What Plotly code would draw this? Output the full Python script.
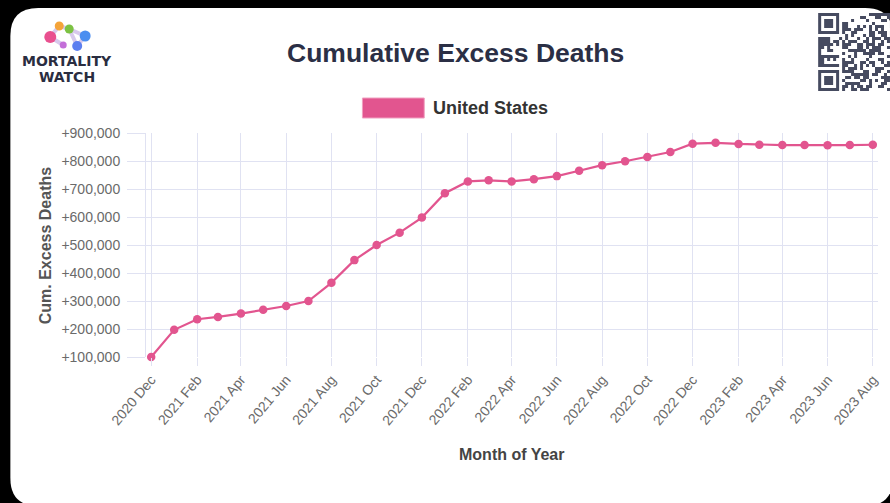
import plotly.graph_objects as go

# monthly cumulative excess deaths, United States
months = ["2020-12", "2021-01", "2021-02", "2021-03", "2021-04", "2021-05", "2021-06",
          "2021-07", "2021-08", "2021-09", "2021-10", "2021-11", "2021-12", "2022-01",
          "2022-02", "2022-03", "2022-04", "2022-05", "2022-06", "2022-07", "2022-08",
          "2022-09", "2022-10", "2022-11", "2022-12", "2023-01", "2023-02", "2023-03",
          "2023-04", "2023-05", "2023-06", "2023-07", "2023-08"]
cum_excess = [100000, 197000, 235000, 243000, 255000, 269000, 282000, 300000, 365000,
              446000, 500000, 544000, 598000, 685000, 727000, 731000, 727000, 735000,
              746000, 765000, 785000, 799000, 814000, 832000, 862000, 865000, 861000,
              858000, 857000, 857000, 856000, 857000, 858000]
series_name = "United States"

W, H = 890, 503
L, R, T, B = 146, 10, 133, 146
PW, PH = W - L - R, H - T - B

PINK = "#e2558f"
GRID = "#e0e2f2"
DARK = "#2b2f45"
FONT = "Liberation Sans, Arial, sans-serif"


def px(x):
    return (x - L) / PW


def py(y):
    return (H - B - y) / PH


def rect_path(x0, y0, x1, y1):
    return "M%f,%f L%f,%f L%f,%f L%f,%f Z" % (px(x0), py(y0), px(x1), py(y0),
                                              px(x1), py(y1), px(x0), py(y1))


fig = go.Figure()
fig.add_trace(go.Scatter(
    x=[m + "-01" for m in months], y=cum_excess, name=series_name,
    mode="lines+markers", line=dict(color=PINK, width=2.2),
    marker=dict(color=PINK, size=8.5), cliponaxis=False, showlegend=False))

shapes = []
# white card with rounded corners
cx0, cy0, cx1, cy1, r = 10, 8, 895, 506, 28
card = ("M%f,%f L%f,%f Q%f,%f %f,%f L%f,%f Q%f,%f %f,%f L%f,%f Q%f,%f %f,%f L%f,%f Q%f,%f %f,%f Z" % (
    px(cx0 + r), py(cy0), px(cx1 - r), py(cy0), px(cx1), py(cy0), px(cx1), py(cy0 + r),
    px(cx1), py(cy1 - r), px(cx1), py(cy1), px(cx1 - r), py(cy1),
    px(cx0 + r), py(cy1), px(cx0), py(cy1), px(cx0), py(cy1 - r),
    px(cx0), py(cy0 + r), px(cx0), py(cy0), px(cx0 + r), py(cy0)))
shapes.append(dict(type="path", xref="paper", yref="paper", path=card,
                   fillcolor="white", line=dict(width=0), layer="below"))

# legend box
shapes.append(dict(type="rect", xref="paper", yref="paper",
                   x0=px(363), x1=px(425), y0=py(118), y1=py(98),
                   fillcolor=PINK, line=dict(color="#f0a0c0", width=1)))

# logo: little molecule
links = [((50, 37), (59, 26)), ((50, 37), (63, 45)), ((59, 26), (69, 29)),
         ((69, 29), (77, 46)), ((69, 29), (85, 36)), ((85, 36), (77, 46))]
for (a, b) in links:
    shapes.append(dict(type="line", xref="paper", yref="paper",
                       x0=px(a[0]), y0=py(a[1]), x1=px(b[0]), y1=py(b[1]),
                       line=dict(color="#d7c9ec", width=4)))
dots = [(50, 37, 6, "#e9508f"), (59, 26, 4.5, "#f4a43a"), (69, 29, 4.5, "#7cc242"),
        (85, 36, 5.5, "#4b8ef0"), (77, 46, 5, "#5c7ff0"), (63, 45, 3.5, "#c36fd8")]
for (x, y, rr, c) in dots:
    shapes.append(dict(type="circle", xref="paper", yref="paper",
                       x0=px(x - rr), x1=px(x + rr), y0=py(y + rr), y1=py(y - rr),
                       fillcolor=c, line=dict(width=0)))

# QR code decoration (fixed pseudo pattern)
qx, qy, m = 820, 13, 3.0
n = 26
qr = []
for i in range(n):
    for j in range(n):
        dark = None
        for (fi, fj) in [(0, 0), (n - 7, 0)]:
            if fi <= i < fi + 7 and fj <= j < fj + 7:
                di, dj = i - fi, j - fj
                dark = (di in (0, 6) or dj in (0, 6) or (2 <= di <= 4 and 2 <= dj <= 4))
        if dark is None:
            if (i < 8 and j < 8) or (i >= n - 8 and j < 8):
                dark = False
            else:
                h = (i * 73856093) ^ (j * 19349663) ^ (i * j * 83492791)
                dark = (h % 97) < 46
        if dark:
            x0 = qx + j * m
            y0 = qy + i * m
            qr.append(rect_path(x0, y0, x0 + m, y0 + m))
shapes.append(dict(type="path", xref="paper", yref="paper", path=" ".join(qr),
                   fillcolor="#464b60", line=dict(width=0)))

annotations = [
    dict(text="<b>Cumulative Excess Deaths</b>", x=px(456), y=py(53),
         font=dict(size=26.5, color=DARK, family=FONT)),
    dict(text="<b>United States</b>", x=px(432), y=py(108), xanchor="left",
         font=dict(size=18, color="#333333", family=FONT)),
    dict(text="<b>Cum. Excess Deaths</b>", x=px(45), y=py(245), textangle=-90,
         font=dict(size=16, color="#555555", family=FONT)),
    dict(text="<b>Month of Year</b>", x=px(513), y=py(454),
         font=dict(size=16, color="#444444", family=FONT)),
    dict(text="<b>MORTALITY</b>", x=px(67), y=py(61),
         font=dict(size=14, color="#2a2d40", family="DejaVu Sans, sans-serif")),
    dict(text="<b>WATCH</b>", x=px(67), y=py(77),
         font=dict(size=14, color="#2a2d40", family="DejaVu Sans, sans-serif")),
]
for a in annotations:
    a.update(xref="paper", yref="paper", showarrow=False)
    a.setdefault("xanchor", "center")
    a.setdefault("yanchor", "middle")

fig.update_layout(
    width=W, height=H,
    margin=dict(l=L, r=R, t=T, b=B, pad=0),
    paper_bgcolor="black", plot_bgcolor="rgba(0,0,0,0)",
    font=dict(family=FONT, color="#666666"),
    shapes=shapes, annotations=annotations,
)
fig.update_xaxes(
    type="date", range=["2020-11-24", "2023-08-08"],
    tickmode="linear", tick0="2020-12-01", dtick="M2", tickformat="%Y %b",
    tickangle=-50, tickfont=dict(size=14, color="#6a6a6a"),
    showgrid=True, gridcolor=GRID, gridwidth=1,
    ticks="outside", ticklen=8, tickcolor=GRID,
    showline=False, zeroline=False,
)
fig.update_yaxes(
    range=[100000, 900000], tickmode="linear", tick0=100000, dtick=100000,
    tickformat="+,", tickfont=dict(size=14, color="#6a6a6a"),
    showgrid=True, gridcolor=GRID, gridwidth=1,
    ticks="outside", ticklen=18, tickcolor=GRID, ticklabelstandoff=4,
    showline=True, linecolor=GRID, zeroline=False,
)

fig.write_html("out.html", config={"displayModeBar": False},
               post_script="document.body.style.margin='0';document.body.style.background='black';")
